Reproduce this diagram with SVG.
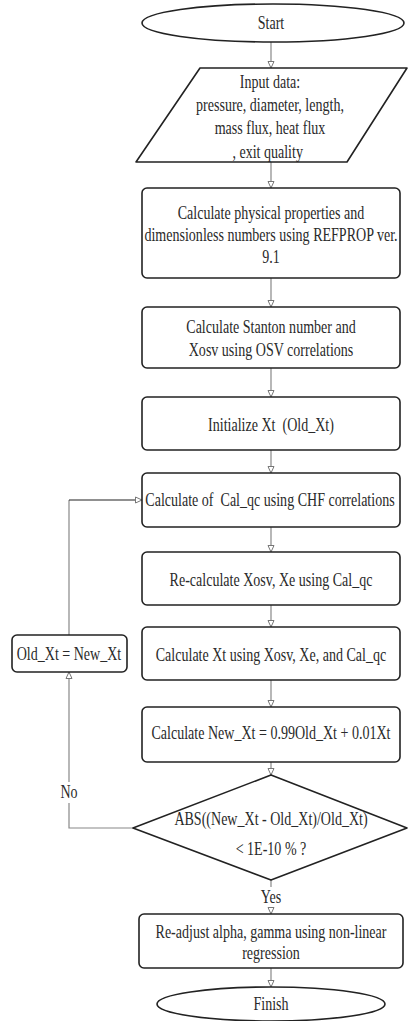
<svg xmlns="http://www.w3.org/2000/svg" width="408" height="1021" viewBox="0 0 408 1021">
<style>
.sh{fill:#fff;stroke:#222;stroke-width:1.6;stroke-linejoin:round}
.t{font-family:"Liberation Serif","Times New Roman",serif;font-size:18px;fill:#2a2a2a;text-anchor:middle}
.c{fill:none;stroke:#888;stroke-width:1.2}
.cd{fill:none;stroke:#222;stroke-width:1.2}
</style>
<defs>
<marker id="ah" markerUnits="userSpaceOnUse" markerWidth="10" markerHeight="10" refX="7" refY="4" orient="auto">
<path d="M0.5,1 L7,4 L0.5,7 Z" fill="#fff" stroke="#777" stroke-width="1"/>
</marker>
</defs>
<rect width="408" height="1021" fill="#fff"/>
<g id="connectors">
<path class="c" d="M271,42 V68" marker-end="url(#ah)"/>
<path class="c" d="M271,162 V188" marker-end="url(#ah)"/>
<path class="c" d="M271,278 V307" marker-end="url(#ah)"/>
<path class="c" d="M271,368 V397" marker-end="url(#ah)"/>
<path class="c" d="M271,450 V473" marker-end="url(#ah)"/>
<path class="c" d="M271,527 V552" marker-end="url(#ah)"/>
<path class="c" d="M271,605 V627" marker-end="url(#ah)"/>
<path class="c" d="M271,680 V707" marker-end="url(#ah)"/>
<path class="c" d="M271,762 V775" marker-end="url(#ah)"/>
<path class="c" d="M271,880 V887"/>
<path class="c" d="M271,908 V914" marker-end="url(#ah)"/>
<path class="c" d="M271,968 V987" marker-end="url(#ah)"/>
<path class="c" d="M133,828 H69 V803"/>
<path class="c" d="M69,782 V672" marker-end="url(#ah)"/>
<path class="c" d="M69,635 V500"/>
<path class="cd" d="M69,500 H142" marker-end="url(#ah)"/>
<text class="t" transform="translate(69,798) scale(0.78,1)">No</text>
<text class="t" transform="translate(271,903) scale(0.78,1)">Yes</text>
</g>
<g id="start">
<ellipse class="sh" cx="273" cy="23" rx="131" ry="19"/>
<text class="t" transform="translate(271,29) scale(0.78,1)">Start</text>
</g>
<g id="input">
<path class="sh" d="M200,68 H407 L347,162 H136 Z"/>
<text class="t" transform="translate(270,88) scale(0.78,1)"><tspan x="0" y="0">Input data:</tspan><tspan x="0" y="23">pressure, diameter, length,</tspan><tspan x="0" y="46">mass flux, heat flux</tspan><tspan x="-3" y="70">, exit quality</tspan></text>
</g>
<g id="props">
<rect class="sh" x="142" y="188" width="258" height="90" rx="5"/>
<text class="t" transform="translate(271,219) scale(0.78,1)"><tspan x="0" y="0">Calculate physical properties and</tspan><tspan x="0" y="22">dimensionless numbers using REFPROP ver.</tspan><tspan x="0" y="44">9.1</tspan></text>
</g>
<g id="stanton">
<rect class="sh" x="142" y="307" width="258" height="61" rx="5"/>
<text class="t" transform="translate(271,333) scale(0.78,1)"><tspan x="0" y="0">Calculate Stanton number and</tspan><tspan x="0" y="23">Xosv using OSV correlations</tspan></text>
</g>
<g id="init">
<rect class="sh" x="142" y="397" width="258" height="53" rx="5"/>
<text class="t" transform="translate(271,431) scale(0.78,1)" xml:space="preserve">Initialize Xt  (Old_Xt)</text>
</g>
<g id="calqc">
<rect class="sh" x="142" y="473" width="258" height="54" rx="5"/>
<text class="t" transform="translate(270,506) scale(0.78,1)" xml:space="preserve">Calculate of  Cal_qc using CHF correlations</text>
</g>
<g id="recalc">
<rect class="sh" x="142" y="552" width="258" height="53" rx="5"/>
<text class="t" transform="translate(271,586) scale(0.78,1)">Re-calculate Xosv, Xe using Cal_qc</text>
</g>
<g id="calxt">
<rect class="sh" x="142" y="627" width="258" height="53" rx="5"/>
<text class="t" transform="translate(271,661) scale(0.78,1)">Calculate Xt using Xosv, Xe, and Cal_qc</text>
</g>
<g id="oldxt">
<rect class="sh" x="12" y="635" width="115" height="37" rx="5"/>
<text class="t" transform="translate(69,660) scale(0.78,1)">Old_Xt = New_Xt</text>
</g>
<g id="newxt">
<rect class="sh" x="142" y="707" width="258" height="55" rx="5"/>
<text class="t" transform="translate(271,739) scale(0.78,1)">Calculate New_Xt = 0.99Old_Xt + 0.01Xt</text>
</g>
<g id="decision">
<path class="sh" d="M271,775 L407,828 L271,880 L133,828 Z"/>
<text class="t" transform="translate(271,825) scale(0.78,1)"><tspan x="0" y="0">ABS((New_Xt - Old_Xt)/Old_Xt)</tspan><tspan x="0" y="30">&lt; 1E-10 % ?</tspan></text>
</g>
<g id="readjust">
<rect class="sh" x="139" y="914" width="264" height="54" rx="5"/>
<text class="t" transform="translate(271,938) scale(0.78,1)"><tspan x="0" y="0">Re-adjust alpha, gamma using non-linear</tspan><tspan x="0" y="21">regression</tspan></text>
</g>
<g id="finish">
<ellipse class="sh" cx="271" cy="1004" rx="114" ry="17"/>
<text class="t" transform="translate(271,1010) scale(0.78,1)">Finish</text>
</g>
</svg>
